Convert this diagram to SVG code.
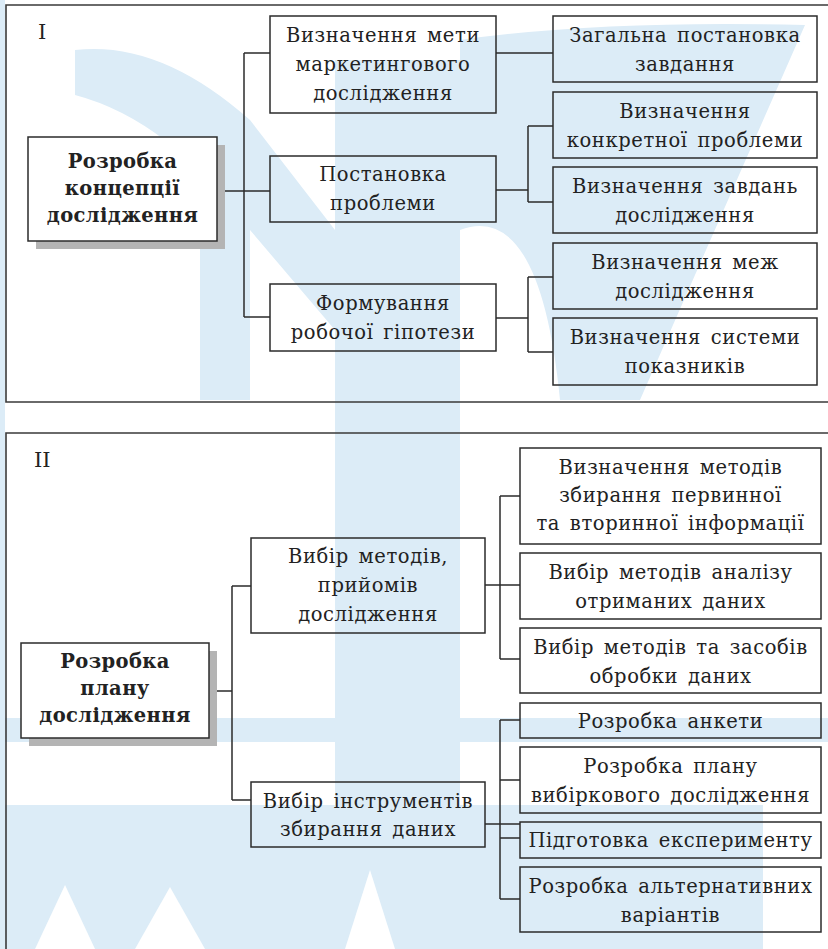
<svg xmlns="http://www.w3.org/2000/svg" width="828" height="949" viewBox="0 0 828 949">
  <style>
    .wm { fill: #dcecf7; }
    .wmw { fill: #ffffff; }
    .frame { fill: none; stroke: #3a3a3a; stroke-width: 1.6; }
    .box { fill: none; stroke: #2b2b2b; stroke-width: 1.5; }
    .main { fill: #ffffff; stroke: #2b2b2b; stroke-width: 1.5; }
    .shadow { fill: #b4b4b4; }
    .conn { fill: none; stroke: #2b2b2b; stroke-width: 1.5; }
    text { font-family: "DejaVu Serif", "Liberation Serif", serif; fill: #222222; text-anchor: middle; }
    .t { font-size: 19.5px; letter-spacing: 0.6px; word-spacing: 3px; }
    .b { font-size: 19.5px; font-weight: bold; letter-spacing: 0.4px; }
    .lbl { font-size: 21px; text-anchor: start; }
  </style>

  <!-- background watermark -->
  <rect width="828" height="949" fill="#ffffff"/>
  <g id="watermark">
    <rect class="wm" x="0" y="0" width="5" height="949"/>
    <!-- central stem -->
    <rect class="wm" x="335" y="60" width="125" height="760"/>
    <!-- left arm -->
    <path class="wm" d="M75 50 Q160 40 250 120 L335 230 L335 330 L250 230 Q170 120 75 95 Z"/>
    <path class="wm" d="M200 150 L250 150 L250 400 L200 400 Z"/>
    <!-- right arm -->
    <path class="wm" d="M460 40 Q600 20 805 25 L640 400 L560 400 Q540 200 460 230 Z"/>
    <!-- horizontal band -->
    <rect class="wm" x="0" y="718" width="828" height="24"/>
    <!-- lower lettering -->
    <rect class="wm" x="0" y="805" width="763" height="144"/>
    <path class="wmw" d="M65 885 L95 949 L35 949 Z"/>
    <path class="wmw" d="M170 887 L205 949 L135 949 Z"/>
    <path class="wmw" d="M370 870 L395 949 L345 949 Z"/>
  </g>

  <!-- section frames -->
  <g id="frames">
    <path class="frame" d="M830 5 H6 V402 H830"/>
    <path class="frame" d="M830 433 H6 V950"/>
    <text class="lbl" x="38" y="39">I</text>
    <text class="lbl" x="34" y="467">II</text>
  </g>

  <!-- connectors -->
  <g id="connectors">
    <!-- section I -->
    <path class="conn" d="M217 191 H270"/>
    <path class="conn" d="M244 53 V317"/>
    <path class="conn" d="M244 53 H270 M244 317 H270"/>
    <path class="conn" d="M496 53 H553"/>
    <path class="conn" d="M496 190 H528 M528 126 V202 M528 126 H553 M528 202 H553"/>
    <path class="conn" d="M496 318 H528 M528 277 V352 M528 277 H553 M528 352 H553"/>
    <!-- section II -->
    <path class="conn" d="M209 691 H232 M232 586 V800 M232 586 H251 M232 800 H251"/>
    <path class="conn" d="M485 585 H520 M500 496 V659 M500 496 H520 M500 659 H520"/>
    <path class="conn" d="M485 824 H520 M500 720 V899 M500 720 H520 M500 780 H520 M500 838 H520 M500 899 H520"/>
  </g>

  <!-- section I nodes -->
  <g id="concept">
    <rect class="shadow" x="36" y="145" width="189" height="104"/>
    <rect class="main" x="28" y="137" width="189" height="104"/>
    <text class="b" x="122.5" y="168">Розробка</text>
    <text class="b" x="122.5" y="195">концепції</text>
    <text class="b" x="122.5" y="222">дослідження</text>
  </g>
  <g id="goal">
    <rect class="box" x="270" y="16" width="226" height="97"/>
    <text class="t" x="383" y="42">Визначення мети</text>
    <text class="t" x="383" y="71">маркетингового</text>
    <text class="t" x="383" y="100">дослідження</text>
  </g>
  <g id="problem">
    <rect class="box" x="270" y="156" width="226" height="66"/>
    <text class="t" x="383" y="181">Постановка</text>
    <text class="t" x="383" y="210">проблеми</text>
  </g>
  <g id="hypothesis">
    <rect class="box" x="270" y="284" width="226" height="67"/>
    <text class="t" x="383" y="310">Формування</text>
    <text class="t" x="383" y="339">робочої гіпотези</text>
  </g>
  <g id="task">
    <rect class="box" x="553" y="16" width="264" height="66"/>
    <text class="t" x="685" y="42">Загальна постановка</text>
    <text class="t" x="685" y="71">завдання</text>
  </g>
  <g id="concrete-problem">
    <rect class="box" x="553" y="92" width="264" height="66"/>
    <text class="t" x="685" y="118">Визначення</text>
    <text class="t" x="685" y="147">конкретної проблеми</text>
  </g>
  <g id="research-tasks">
    <rect class="box" x="553" y="167" width="264" height="66"/>
    <text class="t" x="685" y="193">Визначення завдань</text>
    <text class="t" x="685" y="222">дослідження</text>
  </g>
  <g id="limits">
    <rect class="box" x="553" y="243" width="264" height="66"/>
    <text class="t" x="685" y="269">Визначення меж</text>
    <text class="t" x="685" y="298">дослідження</text>
  </g>
  <g id="indicators">
    <rect class="box" x="553" y="318" width="264" height="67"/>
    <text class="t" x="685" y="344">Визначення системи</text>
    <text class="t" x="685" y="373">показників</text>
  </g>

  <!-- section II nodes -->
  <g id="plan">
    <rect class="shadow" x="29" y="651" width="188" height="95"/>
    <rect class="main" x="21" y="643" width="188" height="95"/>
    <text class="b" x="115" y="668">Розробка</text>
    <text class="b" x="115" y="695">плану</text>
    <text class="b" x="115" y="722">дослідження</text>
  </g>
  <g id="methods">
    <rect class="box" x="251" y="538" width="234" height="95"/>
    <text class="t" x="368" y="563">Вибір методів,</text>
    <text class="t" x="368" y="592">прийомів</text>
    <text class="t" x="368" y="621">дослідження</text>
  </g>
  <g id="instruments">
    <rect class="box" x="251" y="782" width="234" height="65"/>
    <text class="t" x="368" y="808">Вибір інструментів</text>
    <text class="t" x="368" y="836">збирання даних</text>
  </g>
  <g id="collection-methods">
    <rect class="box" x="520" y="448" width="301" height="96"/>
    <text class="t" x="670.5" y="474">Визначення методів</text>
    <text class="t" x="670.5" y="502">збирання первинної</text>
    <text class="t" x="670.5" y="530">та вторинної інформації</text>
  </g>
  <g id="analysis-methods">
    <rect class="box" x="520" y="553" width="301" height="66"/>
    <text class="t" x="670.5" y="579">Вибір методів аналізу</text>
    <text class="t" x="670.5" y="608">отриманих даних</text>
  </g>
  <g id="processing-methods">
    <rect class="box" x="520" y="628" width="301" height="65"/>
    <text class="t" x="670.5" y="654">Вибір методів та засобів</text>
    <text class="t" x="670.5" y="683">обробки даних</text>
  </g>
  <g id="questionnaire">
    <rect class="box" x="520" y="703" width="301" height="35"/>
    <text class="t" x="670.5" y="728">Розробка анкети</text>
  </g>
  <g id="sampling">
    <rect class="box" x="520" y="747" width="301" height="66"/>
    <text class="t" x="670.5" y="773">Розробка плану</text>
    <text class="t" x="670.5" y="802">вибіркового дослідження</text>
  </g>
  <g id="experiment">
    <rect class="box" x="520" y="822" width="301" height="36"/>
    <text class="t" x="670.5" y="847">Підготовка експерименту</text>
  </g>
  <g id="alternatives">
    <rect class="box" x="520" y="867" width="301" height="65"/>
    <text class="t" x="670.5" y="893">Розробка альтернативних</text>
    <text class="t" x="670.5" y="922">варіантів</text>
  </g>
</svg>
